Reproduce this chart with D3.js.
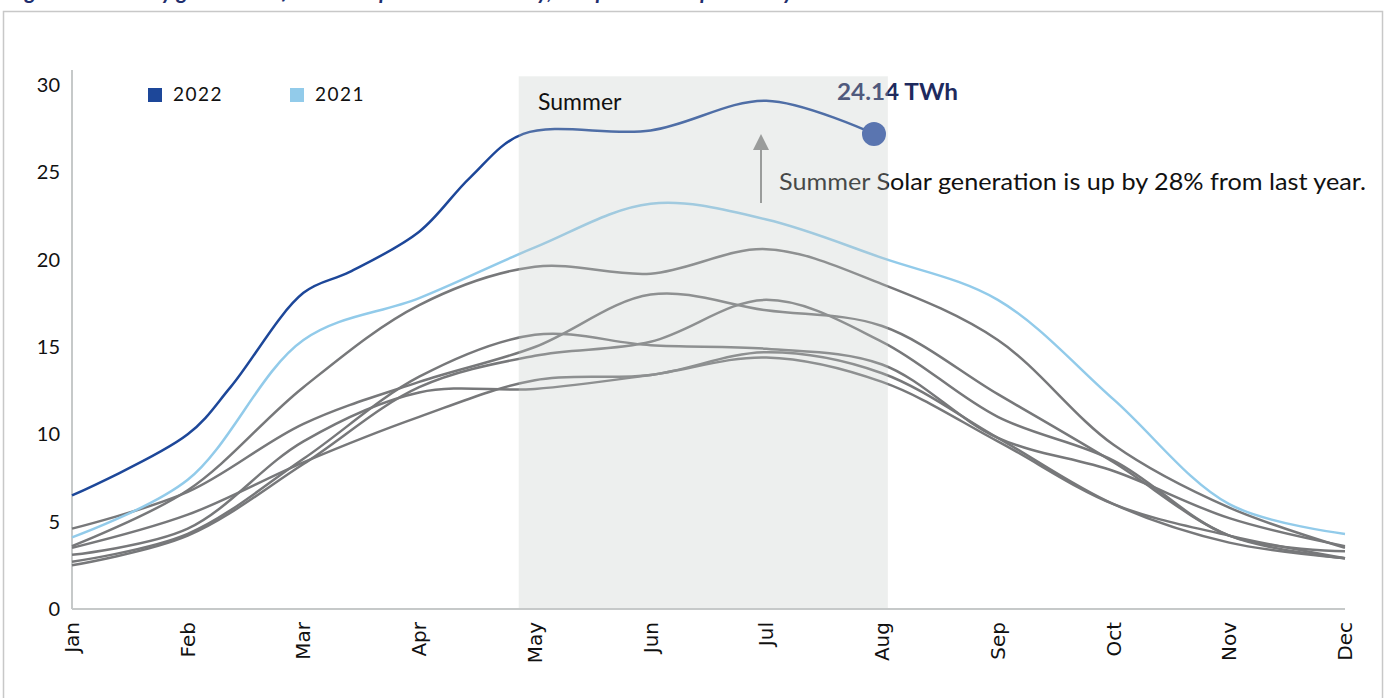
<!DOCTYPE html>
<html>
<head>
<meta charset="utf-8">
<script src="https://cdn.jsdelivr.net/npm/d3@7"></script>
<style>
  body { margin: 0; background: #fff; }
  svg { display: block; }
</style>
</head>
<body>
<div id="chart"></div>
<script>
// month labels and y ticks
const months = ["Jan", "Feb", "Mar", "Apr", "May", "Jun", "Jul", "Aug", "Sep", "Oct", "Nov", "Dec"];
const yTicks = [0, 5, 10, 15, 20, 25, 30];

// 2022 stops in August, points read at month positions (index)
const x2022 = [0, 1, 1.37, 2, 2.4, 3, 3.44, 3.9, 5, 6, 6.93];
const v2022 = [6.5, 10.0, 12.7, 18.1, 19.3, 21.6, 24.7, 27.2, 27.4, 29.1, 27.2];

const v2021 = [4.1, 7.4, 15.4, 17.8, 20.7, 23.2, 22.3, 20.1, 17.7, 12.0, 6.0, 4.3];

// earlier years, all drawn in grey
const greyYears = [
    [3.6, 6.8, 12.7, 17.4, 19.6, 19.2, 20.6, 18.6, 15.4, 9.4, 5.8, 3.5],
    [4.6, 6.7, 10.6, 13.0, 15.0, 18.0, 17.1, 16.2, 12.3, 8.4, 4.2, 2.9],
    [2.5, 4.2, 8.3, 12.7, 14.5, 15.3, 17.7, 15.3, 11.0, 8.5, 4.2, 3.3],
    [2.7, 4.3, 8.6, 13.3, 15.7, 15.1, 14.9, 14.0, 9.8, 7.9, 5.2, 3.6],
    [3.5, 5.4, 8.4, 11.0, 13.1, 13.4, 14.7, 13.5, 9.8, 6.0, 3.8, 2.9],
    [3.1, 4.6, 9.6, 12.4, 12.6, 13.4, 14.4, 13.0, 9.6, 6.0, 4.2, 2.9]
];

// summer shading, in month index units
const summerBand = { from: 3.86, to: 7.05, top: 30.5 };
const legendItems = [{ name: "2022", color: "#1d4799" }, { name: "2021", color: "#92cbea" }];

const W = 1386, H = 698;
const svg = d3.select("#chart").append("svg")
    .attr("width", W)
    .attr("height", H);

const x = d3.scaleLinear().domain([0, 11]).range([72, 1345]);
const y = d3.scaleLinear().domain([0, 30]).range([609, 85]);

// outer frame
svg.append("rect")
    .attr("x", 3.5).attr("y", 11.5)
    .attr("width", 1379).attr("height", 700)
    .attr("fill", "none")
    .attr("stroke", "#c8c8c8")
    .attr("stroke-width", 1.5);

// title, cut off by the top of the page (as in the source)
svg.append("text")
    .attr("x", 8).attr("y", -1)
    .style("font-family", "Lato, sans-serif")
    .style("font-size", "22px")
    .style("font-weight", "bold")
    .style("font-style", "italic")
    .attr("fill", "#1f2e6e")
    .text("Figure 4: Monthly generation from solar power in Germany, compared with previous years");

// axes lines
svg.append("line")
    .attr("x1", 72).attr("x2", 72)
    .attr("y1", 70).attr("y2", y(0))
    .attr("stroke", "#c6c9c9").attr("stroke-width", 2);
svg.append("line")
    .attr("x1", 72).attr("x2", x(11))
    .attr("y1", y(0)).attr("y2", y(0))
    .attr("stroke", "#c6c9c9").attr("stroke-width", 2);

// y labels
svg.selectAll(".ylab")
    .data(yTicks)
    .enter()
    .append("text")
    .attr("class", "ylab")
    .attr("x", 60)
    .attr("y", d => y(d) + 7)
    .attr("text-anchor", "end")
    .style("font-family", "Lato, sans-serif")
    .style("font-size", "20px")
    .attr("fill", "#111")
    .text(d => d);

// x labels, rotated
svg.selectAll(".xlab")
    .data(months)
    .enter()
    .append("text")
    .attr("class", "xlab")
    .attr("transform", (d, i) => "translate(" + (x(i) + 7) + ",622) rotate(-90)")
    .attr("text-anchor", "end")
    .style("font-family", "DejaVu Sans, sans-serif")
    .style("font-size", "20px")
    .attr("fill", "#111")
    .text(d => d);

const line = d3.line()
    .x(d => x(d[0]))
    .y(d => y(d[1]))
    .curve(d3.curveCatmullRom.alpha(0.5));

// grey lines
svg.selectAll(".grey")
    .data(greyYears)
    .enter()
    .append("path")
    .attr("class", "grey")
    .attr("d", d => line(d.map((v, i) => [i, v])))
    .attr("fill", "none")
    .attr("stroke", "#77787a")
    .attr("stroke-width", 2.5);

svg.append("path")
    .attr("d", line(v2021.map((v, i) => [i, v])))
    .attr("fill", "none")
    .attr("stroke", "#92cbea")
    .attr("stroke-width", 2.5);

const pts2022 = x2022.map((xv, i) => [xv, v2022[i]]);
svg.append("path")
    .attr("d", line(pts2022))
    .attr("fill", "none")
    .attr("stroke", "#1d4799")
    .attr("stroke-width", 2.5);

const last = pts2022[pts2022.length - 1];
svg.append("circle")
    .attr("cx", x(last[0]))
    .attr("cy", y(last[1]))
    .attr("r", 12)
    .attr("fill", "#2d51a6");

// arrow pointing up to the 2022 line
svg.append("line")
    .attr("x1", 761).attr("x2", 761)
    .attr("y1", 203).attr("y2", 148)
    .attr("stroke", "#888").attr("stroke-width", 2);
svg.append("path")
    .attr("d", "M761,134 L769,150 L753,150 Z")
    .attr("fill", "#888");

svg.append("text")
    .attr("x", 779).attr("y", 190)
    .attr("textLength", 587)
    .attr("lengthAdjust", "spacingAndGlyphs")
    .style("font-family", "Lato, sans-serif")
    .style("font-size", "24px")
    .attr("fill", "#111")
    .text("Summer Solar generation is up by 28% from last year.");

svg.append("text")
    .attr("x", 837).attr("y", 100)
    .attr("textLength", 121)
    .attr("lengthAdjust", "spacingAndGlyphs")
    .style("font-family", "Lato, sans-serif")
    .style("font-size", "23px")
    .style("font-weight", "bold")
    .attr("fill", "#1e2a5e")
    .text("24.14 TWh");

// summer band sits on top, semi transparent
svg.append("rect")
    .attr("x", x(summerBand.from))
    .attr("y", y(summerBand.top))
    .attr("width", x(summerBand.to) - x(summerBand.from))
    .attr("height", y(0) - y(summerBand.top) - 1)
    .attr("fill", "rgb(195,203,200)")
    .attr("fill-opacity", 0.3);

svg.append("text")
    .attr("x", 538).attr("y", 110)
    .style("font-family", "Lato, sans-serif")
    .style("font-size", "23px")
    .attr("fill", "#111")
    .text("Summer");

// legend
const legend = svg.selectAll(".leg")
    .data(legendItems)
    .enter()
    .append("g")
    .attr("class", "leg")
    .attr("transform", (d, i) => "translate(" + (148 + i * 142) + ",88)");
legend.append("rect")
    .attr("width", 14).attr("height", 14)
    .attr("fill", d => d.color);
legend.append("text")
    .attr("x", 25).attr("y", 13)
    .style("font-family", "Lato, sans-serif")
    .style("font-size", "19px")
    .style("letter-spacing", "1.5px")
    .attr("fill", "#111")
    .text(d => d.name);
</script>
</body>
</html>
